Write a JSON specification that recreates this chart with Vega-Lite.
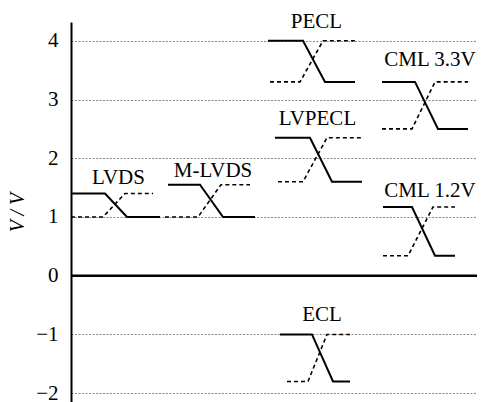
{
  "$schema": "https://vega.github.io/schema/vega-lite/v6.json",
  "width": 406,
  "height": 380,
  "autosize": "none",
  "padding": {"left": 71, "top": 22, "right": 5, "bottom": 0},
  "background": "white",
  "config": {"view": {"stroke": null}, "font": "Liberation Serif"},
  "datasets": {
    "lines": [
      {"f": "LVDS", "k": "s", "o": 1, "x": 0, "v": 1.4},
      {"f": "LVDS", "k": "s", "o": 2, "x": 34, "v": 1.4},
      {"f": "LVDS", "k": "s", "o": 3, "x": 56, "v": 1.0},
      {"f": "LVDS", "k": "s", "o": 4, "x": 89, "v": 1.0},
      {"f": "LVDS", "k": "d", "o": 1, "x": 0, "v": 1.0},
      {"f": "LVDS", "k": "d", "o": 2, "x": 32, "v": 1.0},
      {"f": "LVDS", "k": "d", "o": 3, "x": 54, "v": 1.4},
      {"f": "LVDS", "k": "d", "o": 4, "x": 82, "v": 1.4},
      {"f": "M-LVDS", "k": "s", "o": 1, "x": 97, "v": 1.55},
      {"f": "M-LVDS", "k": "s", "o": 2, "x": 129, "v": 1.55},
      {"f": "M-LVDS", "k": "s", "o": 3, "x": 152, "v": 1.0},
      {"f": "M-LVDS", "k": "s", "o": 4, "x": 184, "v": 1.0},
      {"f": "M-LVDS", "k": "d", "o": 1, "x": 94, "v": 1.0},
      {"f": "M-LVDS", "k": "d", "o": 2, "x": 127, "v": 1.0},
      {"f": "M-LVDS", "k": "d", "o": 3, "x": 150, "v": 1.55},
      {"f": "M-LVDS", "k": "d", "o": 4, "x": 179, "v": 1.55},
      {"f": "PECL", "k": "s", "o": 1, "x": 197, "v": 4.0},
      {"f": "PECL", "k": "s", "o": 2, "x": 232, "v": 4.0},
      {"f": "PECL", "k": "s", "o": 3, "x": 254, "v": 3.3},
      {"f": "PECL", "k": "s", "o": 4, "x": 284, "v": 3.3},
      {"f": "PECL", "k": "d", "o": 1, "x": 199, "v": 3.3},
      {"f": "PECL", "k": "d", "o": 2, "x": 229, "v": 3.3},
      {"f": "PECL", "k": "d", "o": 3, "x": 252, "v": 4.0},
      {"f": "PECL", "k": "d", "o": 4, "x": 284, "v": 4.0},
      {"f": "LVPECL", "k": "s", "o": 1, "x": 204, "v": 2.35},
      {"f": "LVPECL", "k": "s", "o": 2, "x": 239, "v": 2.35},
      {"f": "LVPECL", "k": "s", "o": 3, "x": 261, "v": 1.6},
      {"f": "LVPECL", "k": "s", "o": 4, "x": 291, "v": 1.6},
      {"f": "LVPECL", "k": "d", "o": 1, "x": 207, "v": 1.6},
      {"f": "LVPECL", "k": "d", "o": 2, "x": 232, "v": 1.6},
      {"f": "LVPECL", "k": "d", "o": 3, "x": 256, "v": 2.35},
      {"f": "LVPECL", "k": "d", "o": 4, "x": 291, "v": 2.35},
      {"f": "ECL", "k": "s", "o": 1, "x": 209, "v": -1.0},
      {"f": "ECL", "k": "s", "o": 2, "x": 241, "v": -1.0},
      {"f": "ECL", "k": "s", "o": 3, "x": 262, "v": -1.8},
      {"f": "ECL", "k": "s", "o": 4, "x": 279, "v": -1.8},
      {"f": "ECL", "k": "d", "o": 1, "x": 216, "v": -1.8},
      {"f": "ECL", "k": "d", "o": 2, "x": 237, "v": -1.8},
      {"f": "ECL", "k": "d", "o": 3, "x": 256, "v": -1.0},
      {"f": "ECL", "k": "d", "o": 4, "x": 279, "v": -1.0},
      {"f": "CML 3.3V", "k": "s", "o": 1, "x": 311, "v": 3.3},
      {"f": "CML 3.3V", "k": "s", "o": 2, "x": 344, "v": 3.3},
      {"f": "CML 3.3V", "k": "s", "o": 3, "x": 367, "v": 2.5},
      {"f": "CML 3.3V", "k": "s", "o": 4, "x": 397, "v": 2.5},
      {"f": "CML 3.3V", "k": "d", "o": 1, "x": 311, "v": 2.5},
      {"f": "CML 3.3V", "k": "d", "o": 2, "x": 341, "v": 2.5},
      {"f": "CML 3.3V", "k": "d", "o": 3, "x": 364, "v": 3.3},
      {"f": "CML 3.3V", "k": "d", "o": 4, "x": 397, "v": 3.3},
      {"f": "CML 1.2V", "k": "s", "o": 1, "x": 312, "v": 1.17},
      {"f": "CML 1.2V", "k": "s", "o": 2, "x": 341, "v": 1.17},
      {"f": "CML 1.2V", "k": "s", "o": 3, "x": 364, "v": 0.34},
      {"f": "CML 1.2V", "k": "s", "o": 4, "x": 384, "v": 0.34},
      {"f": "CML 1.2V", "k": "d", "o": 1, "x": 312, "v": 0.34},
      {"f": "CML 1.2V", "k": "d", "o": 2, "x": 337, "v": 0.34},
      {"f": "CML 1.2V", "k": "d", "o": 3, "x": 362, "v": 1.17},
      {"f": "CML 1.2V", "k": "d", "o": 4, "x": 384, "v": 1.17}
    ],
    "labels": [
      {"name": "LVDS", "x": 47.5, "v": 1.66},
      {"name": "M-LVDS", "x": 142, "v": 1.78},
      {"name": "PECL", "x": 245.5, "v": 4.32},
      {"name": "LVPECL", "x": 246.5, "v": 2.66},
      {"name": "CML 3.3V", "x": 359, "v": 3.68},
      {"name": "CML 1.2V", "x": 359, "v": 1.45},
      {"name": "ECL", "x": 251, "v": -0.67}
    ],
    "zero": [{"x0": 0, "x1": 406, "v": 0}]
  },
  "layer": [
    {
      "data": {"name": "zero"},
      "mark": {"type": "rule", "color": "black", "strokeWidth": 2.5},
      "encoding": {
        "x": {"field": "x0", "type": "quantitative", "scale": {"domain": [0, 406], "nice": false, "zero": false}, "axis": null},
        "x2": {"field": "x1"},
        "y": {
          "field": "v",
          "type": "quantitative",
          "scale": {"domain": [-2.15, 4.32], "nice": false, "zero": false},
          "axis": {
            "values": [-2, -1, 0, 1, 2, 3, 4],
            "format": "d",
            "title": "V / V",
            "titleFont": "Liberation Serif",
            "titleFontSize": 20,
            "titleFontWeight": "normal",
            "titleFontStyle": "italic",
            "titleColor": "black",
            "titlePadding": 8,
            "labelFont": "Liberation Serif",
            "labelFontSize": 21,
            "labelColor": "black",
            "labelPadding": 13,
            "ticks": false,
            "tickSize": 0,
            "domainColor": "black",
            "domainWidth": 2,
            "grid": true,
            "gridColor": "#8a8a8a",
            "gridDash": [2, 1.5],
            "gridWidth": 1
          }
        }
      }
    },
    {
      "data": {"name": "lines"},
      "transform": [{"filter": "datum.k === 's'"}],
      "mark": {"type": "line", "color": "black", "strokeWidth": 2},
      "encoding": {
        "x": {"field": "x", "type": "quantitative"},
        "y": {"field": "v", "type": "quantitative"},
        "detail": {"field": "f"},
        "order": {"field": "o"}
      }
    },
    {
      "data": {"name": "lines"},
      "transform": [{"filter": "datum.k === 'd'"}],
      "mark": {"type": "line", "color": "black", "strokeWidth": 1.6, "strokeDash": [4, 3]},
      "encoding": {
        "x": {"field": "x", "type": "quantitative"},
        "y": {"field": "v", "type": "quantitative"},
        "detail": {"field": "f"},
        "order": {"field": "o"}
      }
    },
    {
      "data": {"name": "labels"},
      "mark": {"type": "text", "font": "Liberation Serif", "fontSize": 21, "color": "black", "align": "center", "baseline": "middle", "clip": false},
      "encoding": {
        "x": {"field": "x", "type": "quantitative"},
        "y": {"field": "v", "type": "quantitative"},
        "text": {"field": "name"}
      }
    }
  ]
}
